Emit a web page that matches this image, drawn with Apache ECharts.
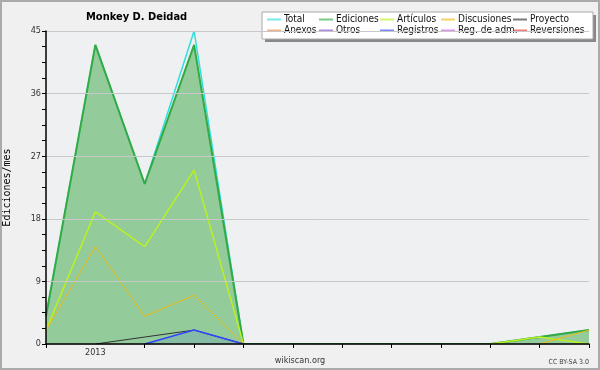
<!DOCTYPE html>
<html>
<head>
<meta charset="utf-8">
<script src="https://cdn.jsdelivr.net/npm/echarts@6/dist/echarts.min.js"></script>
<style>
  html, body { margin: 0; padding: 0; background: #f0f0f0; }
  #chart { width: 600px; height: 370px; }
</style>
</head>
<body>
<div id="chart"></div>
<script>
var months = ['2012-12', '2013-01', '2013-02', '2013-03', '2013-04', '2013-05',
              '2013-06', '2013-07', '2013-08', '2013-09', '2013-10', '2013-11'];

var total       = [4, 43, 23, 45, 0, 0, 0, 0, 0, 0, 1, 2];
var ediciones   = [4, 43, 23, 43, 0, 0, 0, 0, 0, 0, 1, 2];
var articulos   = [2, 19, 14, 25, 0, null, null, null, null, 0, 1, 0];
var discusiones = [2, 14, 4, 7, 0, null, null, null, null, null, 0, 2];
var proyecto    = [null, 0, 1, 2, 0, null, null, null, null, null, null, null];
var registros   = [null, null, 0, 2, 0, null, null, null, null, null, null, null];

var yTicks = [0, 9, 18, 27, 36, 45];

var narrow = '"DejaVu Sans Condensed", "DejaVu Sans"';

function lineSeries(name, data, color, width, extra) {
    var s = {
        name: name,
        type: 'line',
        data: data,
        symbol: 'none',
        color: color,
        itemStyle: { color: color },
        lineStyle: { color: color, width: width },
        animation: false
    };
    for (var k in extra) s[k] = extra[k];
    return s;
}

var series = [
    lineSeries('Total', total, '#33dddd', 1.5, {}),
    lineSeries('Ediciones', ediciones, '#33aa44', 2, {
        areaStyle: { color: 'rgba(40,160,50,0.46)', opacity: 1, origin: 'start' }
    }),
    lineSeries('Artículos', articulos, '#bbf022', 1.5, {}),
    lineSeries('Discusiones', discusiones, '#eebb11', 1, {}),
    lineSeries('Proyecto', proyecto, '#333333', 1, {}),
    lineSeries('Anexos', [], '#ee8844', 1, {}),
    lineSeries('Otros', [], '#8844dd', 1, {}),
    lineSeries('Registros', registros, '#3344ff', 1.5, {
        areaStyle: { color: 'rgba(60,90,230,0.14)', opacity: 1, origin: 'start' }
    }),
    lineSeries('Reg. de adm.', [], '#cc55ee', 1, {}),
    lineSeries('Reversiones', [], '#ee3333', 1, {})
];

// legend laid out as a 5x2 grid, one small legend per column
var legendCols = [
    { left: 267, names: ['Total', 'Anexos'] },
    { left: 319, names: ['Ediciones', 'Otros'] },
    { left: 380, names: ['Artículos', 'Registros'] },
    { left: 441, names: ['Discusiones', 'Reg. de adm.'] },
    { left: 513, names: ['Proyecto', 'Reversiones'] }
];
var legends = legendCols.map(function (c) {
    return {
        orient: 'vertical',
        left: c.left,
        top: 14,
        padding: 0,
        itemGap: 0,
        icon: 'rect',
        itemWidth: 14,
        itemHeight: 2,
        selectedMode: false,
        data: c.names,
        itemStyle: { opacity: 0.65 },
        textStyle: { fontFamily: narrow, fontSize: 10, color: '#111', lineHeight: 11, padding: [0, 0, 0, -2] }
    };
});

var chart = echarts.init(document.getElementById('chart'));
chart.setOption({
    backgroundColor: '#f0f0f0',
    animation: false,
    title: {
        text: 'Monkey D. Deidad',
        left: 81,
        top: 7,
        textStyle: { fontFamily: narrow, fontSize: 11, fontWeight: 'bold', color: '#000' }
    },
    legend: legends,
    grid: {
        left: 46, right: 11, top: 31, bottom: 26,
        outerBoundsMode: 'none',
        containLabel: false,
        show: true, backgroundColor: '#eff0f2', borderWidth: 0
    },
    xAxis: {
        type: 'category',
        data: months,
        boundaryGap: false,
        z: 5,
        axisLine: { lineStyle: { color: '#000', width: 1.5 } },
        axisTick: {
            length: 4,
            lineStyle: { color: '#000' },
            interval: function (i) { return i !== 1; }
        },
        axisLabel: {
            interval: 0,
            margin: 4,
            fontFamily: narrow, fontSize: 9, color: '#333',
            formatter: function (v) { return v.slice(5) === '01' ? v.slice(0, 4) : ''; }
        },
        splitLine: { show: false }
    },
    yAxis: {
        type: 'value',
        min: yTicks[0],
        max: yTicks[yTicks.length - 1],
        interval: 9,
        z: 5,
        name: 'Ediciones/mes',
        nameLocation: 'middle',
        nameGap: 34,
        nameTextStyle: { fontFamily: 'DejaVu Sans Mono', fontSize: 10, color: '#000' },
        axisLine: { show: true, lineStyle: { color: '#000', width: 1.5 } },
        axisTick: { show: true, length: 4, lineStyle: { color: '#000' } },
        minorTick: { show: true, splitNumber: 4, length: 4, lineStyle: { color: '#000' } },
        axisLabel: { margin: 5, fontFamily: narrow, fontSize: 9, color: '#333' },
        splitLine: { lineStyle: { color: '#c8c8c8', width: 1 } }
    },
    graphic: [
        { type: 'rect', shape: { x: 1, y: 1, width: 598, height: 368 },
          style: { fill: 'none', stroke: '#aaaaaa', lineWidth: 2 }, z: 0 },
        { type: 'rect', shape: { x: 265, y: 15, width: 331, height: 27 },
          style: { fill: '#888888' }, z: 1 },
        { type: 'rect', shape: { x: 262, y: 12, width: 331, height: 27 },
          style: { fill: '#ffffff', stroke: '#aaaaaa', lineWidth: 1 }, z: 2 },
        { type: 'text', x: 300, y: 361,
          style: { text: 'wikiscan.org', fontFamily: narrow, fontSize: 9, fill: '#333',
                   textAlign: 'center', textVerticalAlign: 'middle' } },
        { type: 'text', x: 589, y: 362,
          style: { text: 'CC BY-SA 3.0', fontFamily: narrow, fontSize: 7, fill: '#444',
                   textAlign: 'right', textVerticalAlign: 'middle' } }
    ],
    series: series
});
</script>
</body>
</html>
